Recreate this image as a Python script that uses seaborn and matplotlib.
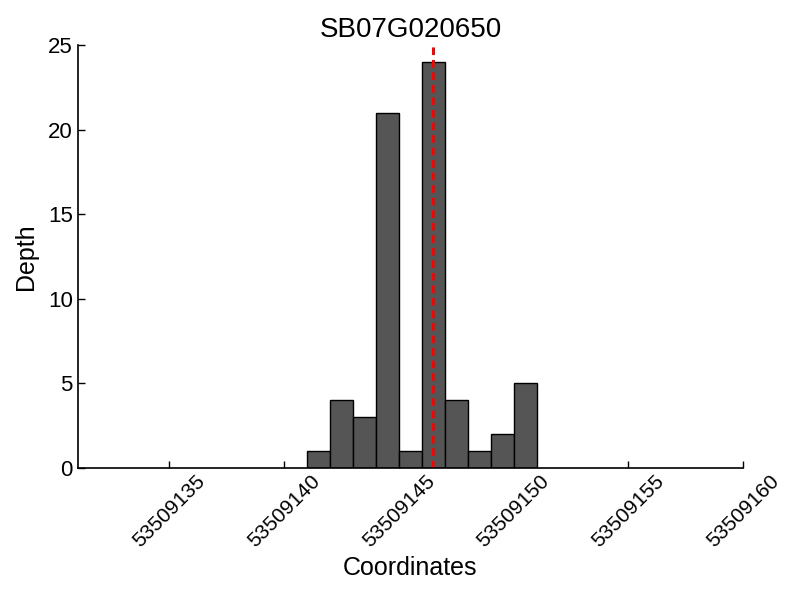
import numpy as np
import pandas as pd
import seaborn as sns
import matplotlib.pyplot as plt

# depth per base position
positions = [53509141, 53509142, 53509143, 53509144, 53509145,
             53509146, 53509147, 53509148, 53509149, 53509150]
depths = [1, 4, 3, 21, 1, 24, 4, 1, 2, 5]
snp_pos = 53509146.5
title = 'SB07G020650'
x_ticks = [53509135, 53509140, 53509145, 53509150, 53509155, 53509160]
x_range = (53509131, 53509160)
y_ticks = [0, 5, 10, 15, 20, 25]

sns.set_style('ticks', {'xtick.direction': 'in', 'ytick.direction': 'in',
                        'text.color': 'black', 'axes.labelcolor': 'black',
                        'xtick.color': 'black', 'ytick.color': 'black'})
plt.rcParams['font.family'] = ['Liberation Sans', 'DejaVu Sans']

df = pd.DataFrame({'Coordinates': positions, 'Depth': depths})

fig = plt.figure(figsize=(8, 6), dpi=100)
ax = fig.add_axes([0.097, 0.22, 0.832, 0.705])

sns.histplot(data=df, x='Coordinates', weights='Depth', binwidth=1,
             binrange=(positions[0], positions[-1] + 1),
             color='#555555', alpha=1, edgecolor='black', linewidth=1, ax=ax)
ax.axvline(snp_pos, color='red', linewidth=2.2, linestyle=(0, (2.5, 1.6)))

ax.set_xlim(*x_range)
ax.set_ylim(0, 25)
ax.set_xticks(x_ticks)
ax.set_yticks(y_ticks)
ax.ticklabel_format(axis='x', useOffset=False, style='plain')
ax.tick_params(axis='both', length=5, width=1, color='black', labelcolor='black')
ax.tick_params(axis='y', labelsize=16)
ax.tick_params(axis='x', labelsize=15, rotation=45, pad=2.5)
sns.despine(ax=ax)
for s in ['left', 'bottom']:
    ax.spines[s].set_color('black')
    ax.spines[s].set_linewidth(1.2)

ax.set_title(title, fontsize=20, pad=6, color='black')
ax.set_xlabel('Coordinates', fontsize=18, labelpad=4, color='black')
ax.set_ylabel('Depth', fontsize=18, labelpad=7, color='black')

fig.savefig('out.png', dpi=100)
